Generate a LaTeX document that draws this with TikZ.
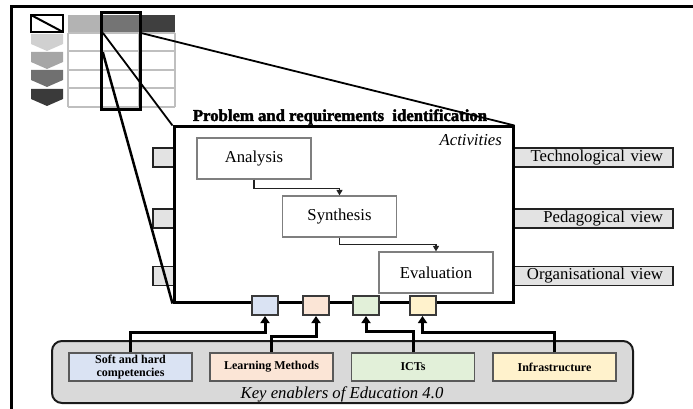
\documentclass[tikz,border=0pt]{standalone}
\usepackage{fontspec}
\setmainfont{Liberation Serif}
\newfontfamily\heavyfont{Liberation Serif}[BoldFeatures={FakeBold=2.2}]
\usetikzlibrary{arrows.meta,calc}
\definecolor{cblue}{HTML}{DAE3F3}
\definecolor{cpeach}{HTML}{FBE5D6}
\definecolor{cgreen}{HTML}{E2F0D9}
\definecolor{cyellow}{HTML}{FFF2CC}
\definecolor{tabgrey}{HTML}{E3E3E3}
\definecolor{panelgrey}{HTML}{D9D9D9}
\definecolor{hone}{HTML}{B3B3B3}
\definecolor{htwo}{HTML}{747474}
\definecolor{hthree}{HTML}{3F3F3F}
\definecolor{chone}{HTML}{D0D0D0}
\definecolor{chtwo}{HTML}{A6A6A6}
\definecolor{chthree}{HTML}{707070}
\definecolor{chfour}{HTML}{3A3A3A}
\definecolor{gridc}{HTML}{BFBFBF}
\begin{document}
\begin{tikzpicture}[x=1pt,y=-1pt,
  bigtext/.style={font=\fontsize{16.7}{20}\selectfont},
  procbox/.style={draw={rgb,255:red,127;green,127;blue,127}, line width=1.2, fill=white,
    minimum width=114, minimum height=41, inner sep=0, bigtext},
  ltab/.style={draw={rgb,255:red,34;green,34;blue,34}, line width=1.5, fill=tabgrey,
    minimum width=21, minimum height=19, inner sep=0},
  rtab/.style={draw={rgb,255:red,34;green,34;blue,34}, line width=1.5, fill=tabgrey,
    minimum width=160, minimum height=19, inner sep=0, text width=140, align=right, bigtext},
  enab/.style={draw={rgb,255:red,58;green,58;blue,58}, line width=2,
    minimum width=26, minimum height=19, inner sep=0},
  kbox/.style={draw={rgb,255:red,89;green,89;blue,89}, line width=1.5,
    minimum width=123, minimum height=28, inner sep=0, align=center,
    font=\bfseries\fontsize{12}{12.5}\selectfont},
  thickarr/.style={line width=3, -{Triangle[length=7pt,width=9pt]}},
  flow/.style={line width=1.3, draw={rgb,255:red,34;green,34;blue,34},
    -{Triangle[length=5.5pt,width=6pt]}},
  zoomline/.style={line width=1.8}
]
\useasboundingbox (0,0) rectangle (693,409);

% outer frame
\draw[line width=3] (693,7) -- (11,7) -- (11,409);

% legend table
\draw[line width=2.5, fill=white] (31,15) rectangle (63,32);
\draw[line width=2] (31,15) -- (63,32);
\fill[hone] (68,15) rectangle (102,33);
\fill[htwo] (102,15) rectangle (139,33);
\fill[hthree] (139,15) rectangle (175,33);
\foreach \yy in {33,51,70,88,107} \draw[gridc, line width=1.2] (68,\yy) -- (175,\yy);
\foreach \xx in {68,102,139,175} \draw[gridc, line width=1.2] (\xx,33) -- (\xx,107);
\foreach \t/\c in {34/chone, 52/chtwo, 70/chthree, 89/chfour}
  \fill[\c] (31,\t) -- (63,\t) -- (63,\t+10) -- (47,\t+17) -- (31,\t+10) -- cycle;
\draw[line width=3] (101,13) rectangle (140,110);
\node[minimum width=37, minimum height=19, inner sep=0] (cell) at (121.5,42.5) {};

% side tabs
\node[ltab] (lt1) at (163.5,157.5) {};
\node[ltab] (lt2) at (163.5,218.5) {};
\node[ltab] (lt3) at (163.5,276) {};
\node[rtab] (rt1) at (593,157.5) {Technological view};
\node[rtab] (rt2) at (593,218.5) {Pedagogical view};
\node[rtab] (rt3) at (593,276) {Organisational view};

% activities box
\node[draw, line width=3, fill=white, minimum width=339, minimum height=175, inner sep=0] (act) at (343.5,214.5) {};
\node[font=\heavyfont\bfseries\fontsize{16.7}{20}\selectfont, anchor=base, inner sep=0] (head) at (340,121) {Problem and requirements~ identification};
\node[font=\itshape\fontsize{16.7}{20}\selectfont, anchor=base east, inner sep=0] (actl) at (502,146) {Activities};

% zoom lines
\draw[zoomline] (cell.north west) -- (act.north west);
\draw[line width=2.5] (cell.south west) -- (act.south west);
\draw[zoomline] (cell.north east) -- (act.north east);

% process
\node[procbox] (ana) at (254,158.5) {Analysis};
\node[procbox] (syn) at (339.5,216.5) {Synthesis};
\node[procbox] (eva) at (436,272.5) {Evaluation};
\draw[flow] (ana.south) -- ++(0,9) -| (syn.north);
\draw[flow] (syn.south) -- ++(0,7) -| (eva.north);

% enabler ports
\node[enab, fill=cblue] (sb1) at (265,305.5) {};
\node[enab, fill=cpeach] (sb2) at (316,305.5) {};
\node[enab, fill=cgreen] (sb3) at (366,305.5) {};
\node[enab, fill=cyellow] (sb4) at (422.5,305.5) {};

% key enablers panel
\node[draw={rgb,255:red,26;green,26;blue,26}, line width=2, fill=panelgrey, rounded corners=10,
  minimum width=581, minimum height=62, inner sep=0] (ke) at (342.5,372) {};
\node[font=\itshape\fontsize{16.7}{20}\selectfont, anchor=base, inner sep=0] (kel) at (342,398) {Key enablers of Education 4.0};
\node[kbox, fill=cblue] (soft) at (130.5,367) {Soft and hard\\competencies};
\node[kbox, fill=cpeach] (learn) at (271.5,367) {Learning Methods};
\node[kbox, fill=cgreen] (ict) at (413,367) {ICTs};
\node[kbox, fill=cyellow] (infra) at (554.5,367) {Infrastructure};

\draw[thickarr] (soft.north) -- ++(0,-20) -| (sb1.south);
\draw[thickarr] (learn.north) -- ++(0,-16) -| (sb2.south);
\draw[thickarr] (ict.north) -- ++(0,-21) -| (sb3.south);
\draw[thickarr] (infra.north) -- ++(0,-20) -| (sb4.south);
\end{tikzpicture}
\end{document}
